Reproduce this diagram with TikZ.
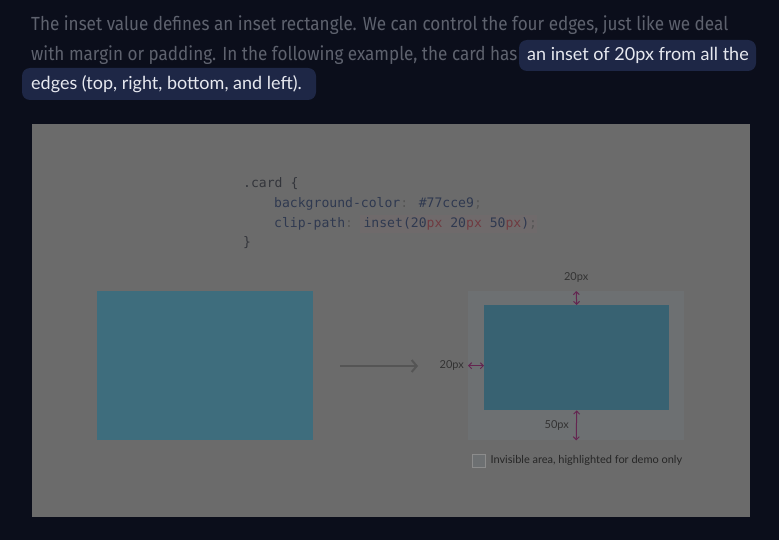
\documentclass[tikz,border=0pt]{standalone}
\usepackage{fontspec}
\setmainfont{Lato}
\newfontfamily\parafont[FakeStretch=0.90]{Fira Sans}
\newfontfamily\hlfont{Lato}
\newfontfamily\codefont{DejaVu Sans Mono}
\usetikzlibrary{arrows.meta,positioning}
\definecolor{pagebg}{HTML}{0B0E1B}
\definecolor{paratext}{HTML}{5E626E}
\definecolor{hlbg}{HTML}{1E2746}
\definecolor{hltext}{HTML}{E6E8EF}
\definecolor{cardbg}{HTML}{6B6B6B}
\definecolor{tealcard}{HTML}{3E6D7D}
\definecolor{tealclip}{HTML}{386272}
\definecolor{ghostarea}{HTML}{6D7072}
\definecolor{codeplain}{HTML}{33353B}
\definecolor{codeprop}{HTML}{2F3950}
\definecolor{codeunit}{HTML}{703A40}
\definecolor{codehl}{HTML}{6F6A6B}
\definecolor{insetarrow}{HTML}{642550}
\definecolor{flowarrow}{HTML}{555555}
\begin{document}
\begin{tikzpicture}[x=1pt,y=-1pt,
  paraline/.style={anchor=base west,inner sep=0pt,font=\parafont\fontsize{19}{22}\selectfont,text=paratext},
  hlline/.style={anchor=base west,inner sep=0pt,font=\hlfont\fontsize{18}{21}\selectfont,text=hltext},
  codeline/.style={anchor=base west,inner sep=0pt,font=\codefont\fontsize{13.1}{16}\selectfont,text=codeprop},
  dimlabel/.style={inner sep=0pt,font=\fontsize{11}{13}\selectfont,text=black!80},
  insetdim/.style={draw=insetarrow,line width=1pt,{Straight Barb[length=3pt,width=6pt]}-{Straight Barb[length=3pt,width=6pt]}},
  box/.style={draw=none,inner sep=0pt,anchor=north west}]
  \useasboundingbox[fill=pagebg] (0,0) rectangle (779,540);

  % Paragraph above the demo card.
  \node[paraline] (para1) at (31,31)
    {The inset value defines an inset rectangle. We can control the four edges, just like we deal};
  \node[paraline] (para2) at (31,61)
    {with margin or padding. In the following example, the card has};
  \fill[hlbg,rounded corners=8pt] (519,40) rectangle (756,71);
  \fill[hlbg,rounded corners=8pt] (22,68) rectangle (316,100);
  \node[hlline] (hl1) at (527,61) {an inset of 20px from all the};
  \node[hlline] (hl2) at (31,90) {edges (top, right, bottom, and left).};

  % Demo card.
  \node[box,fill=cardbg,minimum width=718pt,minimum height=393pt] (card) at (32,124) {};

  % Code snippet.
  \fill[codehl] (360,215) rectangle (537,233);
  \node[codeline,text=codeplain] (code1) at (243,188) {.card \{};
  \node[codeline] (code2) at (274,208) {background-color\textcolor{flowarrow}{:} \#77cce9\textcolor{flowarrow}{;}};
  \node[codeline] (code3) at (274,228)
    {clip-path\textcolor{flowarrow}{:} inset(20\textcolor{codeunit}{px} 20\textcolor{codeunit}{px} 50\textcolor{codeunit}{px})\textcolor{flowarrow}{;}};
  \node[codeline,text=codeplain] (code4) at (243,247) {\}};

  % Before and after.
  \node[box,fill=tealcard,minimum width=216pt,minimum height=149pt] (before) at (97,291) {};
  \node[box,fill=ghostarea,minimum width=216pt,minimum height=149pt] (outer) at (468,291) {};
  \node[box,fill=tealclip,minimum width=185pt,minimum height=105pt] (inner) at (484,305) {};
  \coordinate (flowstart) at (340,366);
  \coordinate (flowend) at (418,366);
  \draw[flowarrow,line width=2pt,-{Straight Barb[length=5pt,width=12pt]}] (flowstart) -- (flowend);

  % Inset measurements.
  \draw[insetdim] (outer.north) -- (inner.north);
  \draw[insetdim] (inner.south) -- (outer.south);
  \draw[insetdim] (outer.west) -- (outer.west -| inner.west);
  \node[dimlabel,above=8pt of outer.north] (toplabel) {20px};
  \node[dimlabel,left=4pt of outer.west] (leftlabel) {20px};
  \node[dimlabel,anchor=east] (bottomlabel) at (569,425) {50px};

  % Legend.
  \node[box,fill=ghostarea,draw=black!45,line width=0.3pt,minimum width=13pt,minimum height=13pt] (legendbox) at (472,454) {};
  \node[dimlabel,anchor=west,text=black!85,right=5pt of legendbox] (legendtext)
    {Invisible area, highlighted for demo only};
\end{tikzpicture}
\end{document}
